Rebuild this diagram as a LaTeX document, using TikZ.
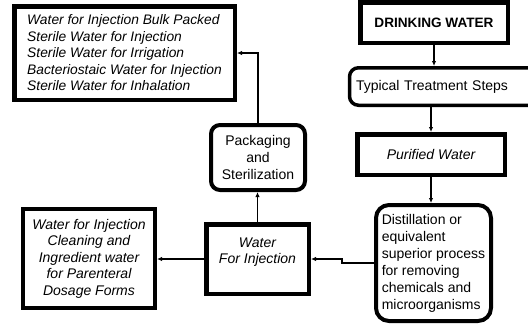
\documentclass[tikz,border=0pt]{standalone}
\usepackage{fontspec}
\setmainfont{Liberation Sans}
\usetikzlibrary{arrows.meta}
\begin{document}
\begin{tikzpicture}[x=1pt,y=-1pt,
  box/.style={draw=black, fill=white, line width=4pt, inner sep=0pt,
    font=\fontsize{14}{16.8}\selectfont},
  rbox/.style={box, rounded corners=9pt},
  arr/.style={line width=1.3pt, -{Latex[length=5pt,width=4.5pt]}}
]
\useasboundingbox (0,0) rectangle (528,325);
\fill[white] (0,0) rectangle (528,325);

\node[box, line width=4.5pt, minimum width=220.5pt, minimum height=93.5pt, align=left,
  font=\fontsize{13.8}{16.5}\selectfont\itshape] (prod) at (124.5,53)
  {Water for Injection Bulk Packed\\Sterile Water for Injection\\Sterile Water for Irrigation\\Bacteriostaic Water for Injection\\Sterile Water for Inhalation};

\node[box, line width=4.5pt, minimum width=147.5pt, minimum height=40.5pt,
  font=\fontsize{13.6}{16.7}\selectfont\bfseries] (drink) at (434,22.5) {DRINKING WATER};

\node[rbox, line width=3.5pt, minimum width=195pt, minimum height=37.5pt,
  text width=182pt, align=left, inner xsep=5.5pt] (typ) at (447,86.5) {Typical Treatment Steps};

\node[box, line width=4.5pt, minimum width=147.5pt, minimum height=40.5pt,
  font=\fontsize{14}{16.7}\selectfont\itshape] (pur) at (431,154.5) {Purified Water};

\node[rbox, rounded corners=13pt, minimum width=115pt, minimum height=116pt, align=left,
  font=\fontsize{14}{17}\selectfont] (dist) at (433.5,263)
  {Distillation or\\equivalent\\superior process\\for removing\\chemicals and\\microorganisms};

\node[rbox, minimum width=94pt, minimum height=65pt, align=center] (pack) at (258,157.5)
  {Packaging\\and\\Sterilization};

\node[box, line width=4.5pt, minimum width=102.5pt, minimum height=69.5pt, align=center,
  font=\fontsize{14}{16.5}\selectfont\itshape] (wfi) at (257.5,259)
  {Water\\For Injection\\\mbox{}};

\node[box, minimum width=132pt, minimum height=99pt, align=center,
  font=\fontsize{14}{16.5}\selectfont\itshape] (use) at (89,258.5)
  {Water for Injection\\Cleaning and\\Ingredient water\\for Parenteral\\Dosage Forms};

\draw[arr] (drink.south) -- (drink.south |- typ.north);
\draw[arr] (pur.north |- typ.south) -- (pur.north);
\draw[arr] (pur.south) -- (pur.south |- dist.north);
\draw[arr] (dist.west) -- ++(-32,0) |- (wfi.east);
\draw[arr] (wfi.north) -- (wfi.north |- pack.south);
\draw[arr] (pack.north) |- (prod.east);
\draw[arr] (wfi.west) -- (use.east |- wfi.west);
\end{tikzpicture}
\end{document}
